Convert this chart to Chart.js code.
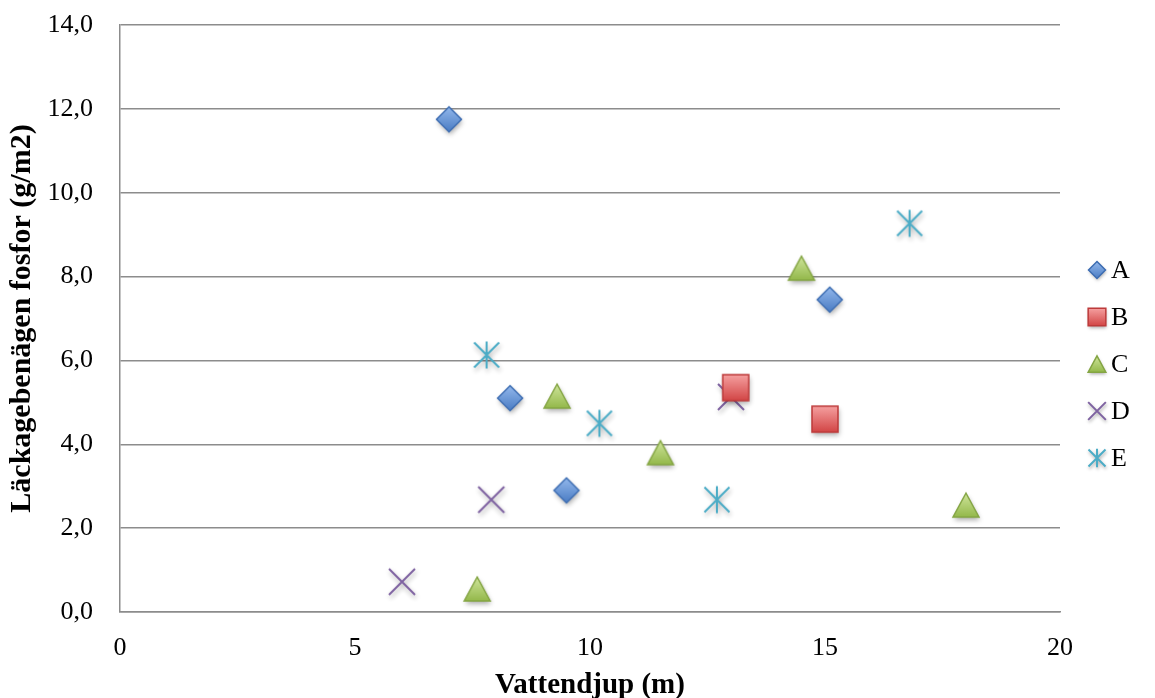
<!DOCTYPE html>
<html>
<head>
<meta charset="utf-8">
<script src="https://cdn.jsdelivr.net/npm/chart.js@4"></script>
<style>
  html, body { margin: 0; padding: 0; background: #fff; }
</style>
</head>
<body>
<canvas id="chart" width="1155" height="698"></canvas>
<script>
// --- data ---
const seriesNames = ['A', 'B', 'C', 'D', 'E'];

const depthA = [7.0, 8.3, 9.5, 15.1];
const phosA  = [11.75, 5.1, 2.9, 7.45];

const depthB = [13.1, 15.0];
const phosB  = [5.35, 4.6];

const depthC = [7.6, 9.3, 11.5, 14.5, 18.0];
const phosC  = [0.55, 5.15, 3.8, 8.2, 2.55];

const depthD = [6.0, 7.9, 13.0];
const phosD  = [0.72, 2.68, 5.13];

const depthE = [7.8, 10.2, 12.7, 16.8];
const phosE  = [6.13, 4.5, 2.68, 9.27];

const xTitle = 'Vattendjup (m)';
const yTitle = 'Läckagebenägen fosfor (g/m2)';

const FONT = "'Liberation Serif', 'DejaVu Serif', serif";

// --- marker images (Excel style: gradient + soft shadow) ---
function makeMarker(kind, s) {
  const pad = 9 * s + 4;
  const half = 14 * s;
  const size = Math.ceil(2 * (half + pad));
  const cv = document.createElement('canvas');
  cv.width = cv.height = size;
  const g = cv.getContext('2d');
  g.translate(size / 2, size / 2);
  g.shadowColor = 'rgba(0,0,0,0.32)';
  g.shadowBlur = 5 * s;
  g.shadowOffsetX = 1 * s;
  g.shadowOffsetY = 3 * s;

  function fillShape(path, top, bottom, light, dark, line) {
    const grad = g.createLinearGradient(0, top, 0, bottom);
    grad.addColorStop(0, light);
    grad.addColorStop(1, dark);
    path();
    g.fillStyle = grad;
    g.fill();
    g.shadowColor = 'transparent';
    path();
    g.strokeStyle = line;
    g.lineWidth = 1.5;
    g.stroke();
  }

  if (kind === 'diamond') {
    const r = 12.5 * s;
    fillShape(() => {
      g.beginPath(); g.moveTo(0, -r); g.lineTo(r, 0); g.lineTo(0, r); g.lineTo(-r, 0); g.closePath();
    }, -r, r, '#93b8ec', '#4a7cc3', '#3d6db2');
  } else if (kind === 'square') {
    const h = 13 * s;
    fillShape(() => { g.beginPath(); g.rect(-h, -h, 2 * h, 2 * h); }, -h, h, '#f5a0a0', '#d24545', '#bd3a3a');
  } else if (kind === 'triangle') {
    const w = 13 * s, h = 12 * s;
    fillShape(() => {
      g.beginPath(); g.moveTo(0, -h); g.lineTo(w, h); g.lineTo(-w, h); g.closePath();
    }, -h, h, '#cfe59c', '#93b84a', '#84a543');
  } else if (kind === 'cross') {
    const d = 13 * s;
    g.strokeStyle = '#7e62a1';
    g.lineWidth = 2;
    g.beginPath();
    g.moveTo(-d, -d); g.lineTo(d, d);
    g.moveTo(d, -d); g.lineTo(-d, d);
    g.stroke();
  } else if (kind === 'star') {
    const v = 13.5 * s, d = 12.5 * s;
    g.strokeStyle = '#4bacc6';
    g.lineWidth = 2;
    g.beginPath();
    g.moveTo(0, -v); g.lineTo(0, v);
    g.moveTo(-d, -d); g.lineTo(d, d);
    g.moveTo(d, -d); g.lineTo(-d, d);
    g.stroke();
  }
  return cv;
}

const markerKinds = ['diamond', 'square', 'triangle', 'cross', 'star'];
const chartMarkers = markerKinds.map(k => makeMarker(k, 1));
const legendMarkers = markerKinds.map(k => makeMarker(k, 0.68));

function toPoints(xs, ys) {
  return xs.map((x, i) => ({ x: x, y: ys[i] }));
}

const seriesData = [
  toPoints(depthA, phosA),
  toPoints(depthB, phosB),
  toPoints(depthC, phosC),
  toPoints(depthD, phosD),
  toPoints(depthE, phosE)
];

// Légende dessinée à droite, comme dans Excel
const sideLegend = {
  id: 'sideLegend',
  afterDraw(chart) {
    const ctx = chart.ctx;
    const area = chart.chartArea;
    const x = area.right + 37;
    const step = 47;
    const y0 = 270;
    ctx.save();
    ctx.font = '26px ' + FONT;
    ctx.fillStyle = '#000';
    ctx.textBaseline = 'middle';
    ctx.textAlign = 'left';
    chart.data.datasets.forEach((ds, i) => {
      const y = y0 + i * step;
      const m = legendMarkers[i];
      ctx.drawImage(m, x - m.width / 2, y - m.height / 2);
      ctx.fillText(ds.label, x + 14, y + 1);
    });
    ctx.restore();
  }
};

new Chart(document.getElementById('chart'), {
  type: 'scatter',
  data: {
    datasets: seriesNames.map((name, i) => ({
      label: name,
      data: seriesData[i],
      pointStyle: chartMarkers[i],
      pointRadius: 12
    }))
  },
  options: {
    responsive: false,
    animation: false,
    events: [],
    layout: { padding: { top: 25, right: 95, left: 0, bottom: 0 } },
    plugins: {
      legend: { display: false },
      tooltip: { enabled: false }
    },
    scales: {
      x: {
        type: 'linear',
        min: 0,
        max: 20,
        afterFit: s => { s.height = 86; s.paddingLeft = 0; s.paddingRight = 0; },
        ticks: {
          stepSize: 5,
          padding: 21,
          color: '#000',
          font: { family: FONT, size: 26 }
        },
        grid: { display: false, drawTicks: false },
        border: { display: true, color: '#8c8c8c', width: 1.5 },
        title: {
          display: true,
          text: xTitle,
          color: '#000',
          font: { family: FONT, size: 29, weight: 'bold', lineHeight: 1 },
          padding: { top: 0, bottom: -2 }
        }
      },
      y: {
        type: 'linear',
        min: 0,
        max: 14,
        afterFit: s => { s.width = 120; s.paddingTop = 0; s.paddingBottom = 0; },
        ticks: {
          stepSize: 2,
          padding: 27,
          color: '#000',
          font: { family: FONT, size: 26 },
          callback: v => v.toFixed(1).replace('.', ',')
        },
        grid: { color: '#8c8c8c', lineWidth: 1.5, drawTicks: false },
        border: { display: true, color: '#8c8c8c', width: 1.5 },
        title: {
          display: true,
          text: yTitle,
          color: '#000',
          font: { family: FONT, size: 30, weight: 'bold', lineHeight: 1 },
          padding: { top: 7, bottom: 0 }
        }
      }
    }
  },
  plugins: [sideLegend]
});
</script>
</body>
</html>
